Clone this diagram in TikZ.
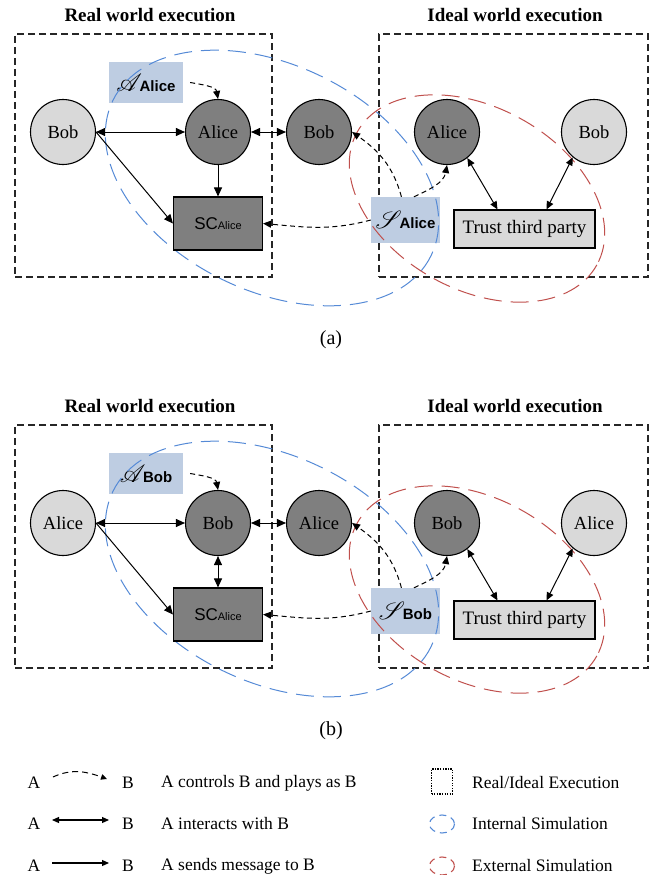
\documentclass[tikz,border=0pt]{standalone}
\usepackage{fontspec}
\setmainfont{Liberation Serif}
\setsansfont{Liberation Sans}
\usepackage{mathrsfs}
\usetikzlibrary{arrows.meta}

\definecolor{partydark}{RGB}{127,127,127}
\definecolor{partylight}{RGB}{217,217,217}
\definecolor{simfill}{RGB}{190,205,226}
\definecolor{intblue}{RGB}{85,138,214}
\definecolor{extred}{RGB}{192,80,77}

\newcommand\fsz[1]{\fontsize{#1}{#1}\selectfont}
% simulator / adversary label: script letter followed by the party name
\newcommand\simname[2]{{\fsz{24}$\mathscr{#1}$}\kern-2.5pt{\fsz{15}\bfseries #2}}

\tikzset{
  party/.style={circle, draw, line width=1.1pt, minimum size=65pt, inner sep=0pt, font=\fsz{18.5}},
  corrupt/.style={party, fill=partydark},
  honest/.style={party, fill=partylight},
  execbox/.style={draw=black!85, line width=1.2pt, dash pattern=on 7pt off 4pt, inner sep=0pt},
  simlabel/.style={fill=simfill, inner sep=0pt, font=\sffamily},
  contract/.style={draw, line width=1.1pt, fill=partydark, minimum width=89pt, minimum height=53pt, inner sep=0pt, font=\fsz{17}\sffamily},
  tpbox/.style={draw, line width=1.1pt, fill=partylight, minimum width=141pt, minimum height=38pt, inner sep=0pt, font=\fsz{19}},
  msg/.style={line width=1pt, -{Triangle[length=9pt,width=8pt]}},
  inter/.style={line width=1pt, {Triangle[length=9pt,width=8pt]}-{Triangle[length=9pt,width=8pt]}},
  idealinter/.style={line width=1pt, {Triangle[length=8pt,width=7pt]}-{Triangle[length=8pt,width=7pt]}},
  ctrl/.style={line width=1pt, dash pattern=on 5pt off 3.5pt, -{Triangle[length=8pt,width=7pt]}},
  intsim/.style={draw=intblue, line width=1pt, dash pattern=on 18pt off 9pt},
  extsim/.style={draw=extred, line width=1pt, dash pattern=on 18pt off 9pt},
  worldtitle/.style={font=\fsz{19}\bfseries},
  captionfont/.style={font=\fsz{20}},
  legend/.style={font=\fsz{17.5}, inner sep=0pt},
}

% #1 name prefix, #2 honest party, #3 corrupted party,
% #4 link between corrupted party and contract, #5 caption
\newcommand\worldpanel[5]{%
  \node[worldtitle] (#1-rt) at (150,15) {Real world execution};
  \node[worldtitle] (#1-it) at (515,15) {Ideal world execution};
  \node[execbox, minimum width=257pt, minimum height=243pt] (#1-real) at (143.5,155.5) {};
  \node[execbox, minimum width=269pt, minimum height=243pt] (#1-ideal) at (513.5,155.5) {};
  \node[simlabel, minimum width=74pt, minimum height=41pt] (#1-adv) at (146,82.5) {\simname{A}{#3}};
  \node[simlabel, minimum width=69pt, minimum height=46pt] (#1-sim) at (405.5,220) {\simname{S}{#3}};
  % internal and external simulation regions
  \begin{scope}[shift={(272,178)}, rotate=-26]
    \draw[intsim] (0,0) ellipse [x radius=177, y radius=113];
  \end{scope}
  \begin{scope}[shift={(477,198.5)}, rotate=-29]
    \draw[extsim] (0,0) ellipse [x radius=137, y radius=91];
  \end{scope}
  % parties
  \node[honest] (#1-hl) at (63,132) {#2};
  \node[corrupt] (#1-cm) at (218,132) {#3};
  \node[corrupt] (#1-hr) at (319,132) {#2};
  \node[contract] (#1-sc) at (218,223.5) {SC{\fsz{11}Alice}};
  \node[corrupt] (#1-ci) at (447,132) {#3};
  \node[honest] (#1-hi) at (594,132) {#2};
  \node[tpbox] (#1-ttp) at (524.5,229) {Trust third party};
  % messages
  \draw[inter] (#1-hl) -- (#1-cm);
  \draw[msg] (#1-hl.east) -- (#1-sc.west);
  \draw[#4] (#1-cm.south) -- (#1-sc.north);
  \draw[inter] (#1-cm) -- (#1-hr);
  \draw[idealinter] (#1-ci.-52) -- ([xshift=-27pt]#1-ttp.north);
  \draw[idealinter] (#1-hi.-130) -- ([xshift=22pt]#1-ttp.north);
  % control
  \draw[ctrl] ([xshift=7pt]#1-adv.east) to[out=-10,in=100] (#1-cm.north);
  \draw[ctrl] (#1-sim.100) to[out=105,in=-35] (#1-hr.east);
  \draw[ctrl] (#1-sim.70) to[out=25,in=-100] (#1-ci.south);
  \draw[ctrl] (#1-sim.west) to[out=195,in=-5] (#1-sc.east);
  \node[captionfont] (#1-cap) at (331,340) {#5};
}

\begin{document}
\begin{tikzpicture}[x=1pt, y=-1pt]
  \useasboundingbox (0,0) rectangle (657,875);

  \worldpanel{pa}{Bob}{Alice}{msg}{(a)}
  \begin{scope}[shift={(0,391)}]
    \worldpanel{pb}{Alice}{Bob}{inter}{(b)}
  \end{scope}

  % legend
  \node[legend] (k1a) at (34,783) {A};
  \node[legend] (k1b) at (128,783) {B};
  \node[legend, anchor=west] (k1t) at (161,783) {A controls B and plays as B};
  \coordinate (k1s) at (53,777);
  \coordinate (k1e) at (107,779);
  \draw[line width=1pt, dash pattern=on 6pt off 4pt, -{Triangle[length=6pt,width=5.5pt]}] (k1s) to[out=25, in=160] (k1e);

  \node[legend] (k2a) at (34,824) {A};
  \node[legend] (k2b) at (128,824) {B};
  \node[legend, anchor=west] (k2t) at (161,824) {A interacts with B};
  \coordinate (k2s) at (52,820);
  \coordinate (k2e) at (109,820);
  \draw[line width=1.2pt, {Triangle[length=7pt,width=6pt]}-{Triangle[length=7pt,width=6pt]}] (k2s) -- (k2e);

  \node[legend] (k3a) at (34,866) {A};
  \node[legend] (k3b) at (128,866) {B};
  \node[legend, anchor=west] (k3t) at (161,866) {A sends message to B};
  \coordinate (k3s) at (52,863);
  \coordinate (k3e) at (109,863);
  \draw[line width=1.2pt, -{Triangle[length=7pt,width=6pt]}] (k3s) -- (k3e);

  \node[draw, line width=1.2pt, dash pattern=on 1.3pt off 1.3pt, minimum width=21pt, minimum height=25pt, inner sep=0pt] (k4) at (442,781.5) {};
  \node[legend, anchor=west] (k4t) at (472,783) {Real/Ideal Execution};
  \draw[draw=intblue, line width=1.1pt, dash pattern=on 7pt off 5pt] (442,824) ellipse [x radius=12.5, y radius=9];
  \node[legend, anchor=west] (k5t) at (472,824) {Internal Simulation};
  \draw[draw=extred, line width=1.1pt, dash pattern=on 7pt off 5pt] (442,866) ellipse [x radius=12.5, y radius=9];
  \node[legend, anchor=west] (k6t) at (472,866) {External Simulation};
\end{tikzpicture}
\end{document}
